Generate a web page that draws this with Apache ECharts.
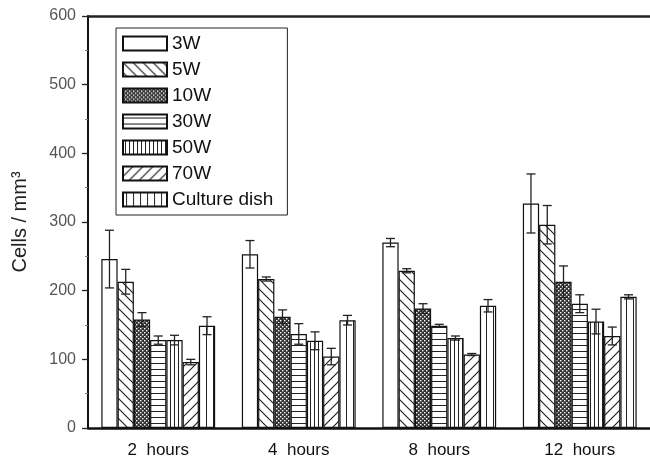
<!DOCTYPE html>
<html><head><meta charset="utf-8">
<script src="https://cdn.jsdelivr.net/npm/echarts@6/dist/echarts.min.js"></script>
<style>html,body{margin:0;padding:0;background:#fff}#c{width:650px;height:459px}</style>
</head><body><div id="c"></div>
<script>
const categories = ['2  hours', '4  hours', '8  hours', '12  hours'];
const seriesNames = ['3W', '5W', '10W', '30W', '50W', '70W', 'Culture dish'];
const v3W = [246, 253, 270, 327];
const v5W = [213, 217, 229, 296];
const v10W = [158, 162, 174, 213];
const v30W = [128, 137, 149, 181];
const v50W = [128, 127, 131, 155];
const v70W = [96, 104, 107, 134];
const vCulture = [149, 157, 178, 191];
const e3W = [42, 20, 6, 43];
const e5W = [18, 3, 3, 28];
const e10W = [10, 10, 7, 23];
const e30W = [6, 15, 2, 13];
const e50W = [7, 13, 3, 18];
const e70W = [4, 12, 1.5, 13];
const eCulture = [13, 7, 9, 3];
const yTicks = [0, 100, 200, 300, 400, 500, 600];

const values = [v3W, v5W, v10W, v30W, v50W, v70W, vCulture];
const errors = [e3W, e5W, e10W, e30W, e50W, e70W, eCulture];

function mk(w, h, draw) {
  const c = document.createElement('canvas');
  c.width = w; c.height = h;
  const g = c.getContext('2d');
  g.fillStyle = '#fff'; g.fillRect(0, 0, w, h);
  g.strokeStyle = '#222'; g.fillStyle = '#222';
  draw(g);
  return { image: c, repeat: 'repeat' };
}
const patterns = [
  '#ffffff',
  mk(10, 10, g => { g.lineWidth = 1.2; g.beginPath(); g.moveTo(-1, -1); g.lineTo(11, 11); g.moveTo(-1, 9); g.lineTo(1, 11); g.moveTo(9, -1); g.lineTo(11, 1); g.stroke(); }),
  mk(4, 4, g => { g.fillStyle = '#333'; g.fillRect(0, 0, 4, 4); g.fillStyle = '#fff'; g.fillRect(0, 0, 1.4, 1.4); g.fillRect(2, 2, 1.4, 1.4); }),
  mk(6, 6, g => { g.lineWidth = 1; g.beginPath(); g.moveTo(0, 3.5); g.lineTo(6, 3.5); g.stroke(); }),
  mk(4, 4, g => { g.lineWidth = 1; g.beginPath(); g.moveTo(2.5, 0); g.lineTo(2.5, 4); g.stroke(); }),
  mk(10, 10, g => { g.lineWidth = 1.2; g.beginPath(); g.moveTo(-1, 11); g.lineTo(11, -1); g.moveTo(-1, 1); g.lineTo(1, -1); g.moveTo(9, 11); g.lineTo(11, 9); g.stroke(); }),
  mk(7, 7, g => { g.lineWidth = 1; g.beginPath(); g.moveTo(3.5, 0); g.lineTo(3.5, 7); g.stroke(); })
];

const GAP = 0.19;
const series = [];
seriesNames.forEach((name, i) => {
  series.push({
    name, type: 'bar', data: values[i], barGap: 0, barCategoryGap: (GAP * 100) + '%',
    itemStyle: { color: patterns[i], borderColor: '#111', borderWidth: 1.2 },
    z: 2
  });
});
seriesNames.forEach((name, i) => {
  series.push({
    name: name + ' err', type: 'custom', z: 5,
    data: values[i].map((v, j) => [j, v, errors[i][j]]),
    encode: { x: 0, y: 1 },
    renderItem: (params, api) => {
      const j = api.value(0), v = api.value(1), e = api.value(2);
      const band = api.size([1, 0])[0];
      const bw = band * (1 - GAP) / seriesNames.length;
      const c = api.coord([j, v]);
      const x = c[0] + (i - (seriesNames.length - 1) / 2) * bw;
      const yt = api.coord([j, v + e])[1];
      const yb = api.coord([j, v - e])[1];
      const hw = 4.5;
      const st = { stroke: '#222', lineWidth: 1.3 };
      return { type: 'group', children: [
        { type: 'line', shape: { x1: x, y1: yt, x2: x, y2: yb }, style: st },
        { type: 'line', shape: { x1: x - hw, y1: yt, x2: x + hw, y2: yt }, style: st },
        { type: 'line', shape: { x1: x - hw, y1: yb, x2: x + hw, y2: yb }, style: st }
      ]};
    }
  });
});

const chart = echarts.init(document.getElementById('c'), null, { renderer: 'canvas' });
chart.setOption({
  animation: false,
  backgroundColor: '#fff',
  grid: { left: 88, right: 0, top: 16, bottom: 27 },
  legend: {
    data: seriesNames, orient: 'vertical', left: 116, top: 28,
    backgroundColor: '#fff', borderColor: '#222', borderWidth: 1,
    padding: [6, 14, 6, 6], itemWidth: 44, itemHeight: 14, itemGap: 7,
    icon: 'rect',
    textStyle: { fontFamily: 'Liberation Sans, Arial', fontSize: 19, color: '#111' }
  },
  xAxis: [{
    type: 'category', data: categories,
    axisLine: { lineStyle: { color: '#111', width: 2.5 } },
    axisTick: { show: false },
    axisLabel: { fontFamily: 'Liberation Sans, Arial', fontSize: 17, color: '#111', margin: 14 }
  }, {
    type: 'category', data: categories, position: 'top',
    axisLine: { lineStyle: { color: '#222', width: 2.5 } },
    axisTick: { show: false }, axisLabel: { show: false }
  }],
  yAxis: {
    type: 'value', min: yTicks[0], max: yTicks[yTicks.length - 1], interval: 100,
    name: 'Cells / mm³', nameLocation: 'middle', nameGap: 58,
    nameTextStyle: { fontFamily: 'Liberation Sans, Arial', fontSize: 20, color: '#222' },
    axisLine: { show: true, lineStyle: { color: '#111', width: 2 } },
    axisTick: { show: true, length: 6, lineStyle: { color: '#222', width: 1.3 } },
    minorTick: { show: true, splitNumber: 2, length: 3, lineStyle: { color: '#777' } },
    splitLine: { show: false },
    axisLabel: { fontFamily: 'Liberation Sans, Arial', fontSize: 16, color: '#555', margin: 12 }
  },
  series
});
</script></body></html>
